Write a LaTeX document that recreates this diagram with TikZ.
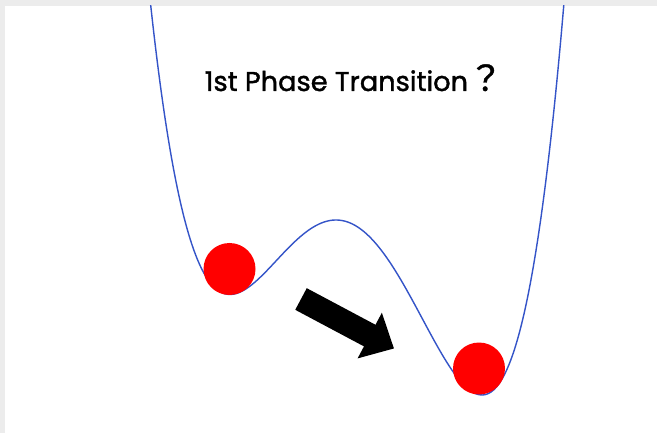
\documentclass[tikz,border=0pt]{standalone}
\usepackage{fontspec}
\setmainfont{Poppins}[FakeBold=1.4]
\newfontfamily\cjk{Noto Sans CJK JP}[FakeBold=1.2]
\usetikzlibrary{arrows.meta}
\definecolor{potblue}{RGB}{52,84,200}
\definecolor{framegray}{RGB}{236,236,236}
\begin{document}
\begin{tikzpicture}[ball/.style={circle,fill=red,minimum size=1.04cm,inner sep=0pt},
  bigarrow/.style={line width=0.49cm,-{Triangle[width=1.0cm,length=0.55cm]}}]
\useasboundingbox (0,0) rectangle (13.14,8.66);
\fill[framegray] (0,0) rectangle (13.14,8.66);
\fill[white] (0.1,0) rectangle (13.14,8.54);
\begin{scope}
\clip (0.1,0) rectangle (13.14,8.54);
\draw[potblue,line width=0.8pt] plot[domain=-1.86:2.28,samples=160,smooth]
  ({6.72+2*\x},{4.26+3.7698*(0.25*\x*\x*\x*\x-0.13333*\x*\x*\x-0.7738*\x*\x)});
\end{scope}
\node[ball] (upper) at (4.59,3.28) {};
\node[ball] (lower) at (9.58,1.29) {};
\coordinate (start) at (6.02,2.68);
\coordinate (finish) at (7.88,1.69);
\draw[bigarrow] (start) -- (finish);
\node[anchor=base,font=\fontsize{15.5}{18}\selectfont] (title) at (7.08,6.84) {1st Phase Transition{\cjk\fontsize{20}{22}\selectfont ？}};
\end{tikzpicture}
\end{document}
